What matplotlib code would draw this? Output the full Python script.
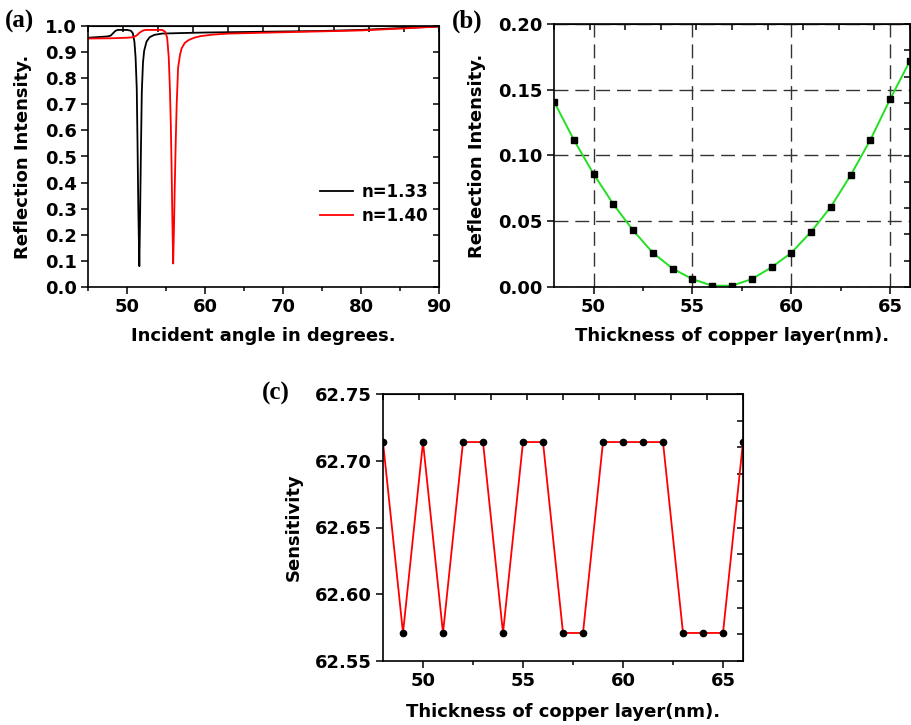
import numpy as np
import matplotlib
matplotlib.use("Agg")
import matplotlib.pyplot as plt
from matplotlib.ticker import MultipleLocator

plt.rcParams['font.family'] = 'DejaVu Sans'
plt.rcParams['font.weight'] = 'bold'
plt.rcParams['axes.labelweight'] = 'bold'

# (a) reflectance vs incident angle for two sensing media
angle_133 = [45.0, 46.5, 47.5, 47.9, 48.2, 48.5, 48.8, 50.0, 50.5, 50.75, 50.95,
             51.1, 51.25, 51.35, 51.45, 51.58, 51.68, 51.78, 51.9, 52.05, 52.2,
             52.5, 52.9, 53.5, 54.5, 57.0, 60.0, 65.0, 70.0, 75.0, 80.0, 85.0, 90.0]
refl_133 = [0.955, 0.958, 0.960, 0.963, 0.972, 0.981, 0.985, 0.985, 0.982, 0.972, 0.94,
            0.88, 0.76, 0.55, 0.30, 0.08, 0.28, 0.51, 0.75, 0.86, 0.905,
            0.94, 0.957, 0.966, 0.971, 0.973, 0.975, 0.977, 0.979, 0.981, 0.985, 0.992, 0.998]
angle_140 = [45.0, 48.0, 50.0, 50.8, 51.2, 51.6, 52.0, 52.4, 54.5, 54.9, 55.15,
             55.35, 55.5, 55.62, 55.72, 55.82, 55.92, 56.02, 56.12, 56.25, 56.37,
             56.55, 56.8, 57.0, 57.4, 57.9, 58.6, 59.4, 61.0, 63.0, 70.0, 80.0, 85.0, 90.0]
refl_140 = [0.952, 0.953, 0.955, 0.957, 0.963, 0.974, 0.982, 0.985, 0.985, 0.978, 0.955,
            0.88, 0.76, 0.62, 0.45, 0.25, 0.09, 0.22, 0.38, 0.56, 0.70,
            0.84, 0.89, 0.914, 0.935, 0.946, 0.955, 0.961, 0.967, 0.971, 0.976, 0.983, 0.990, 0.998]

# (b) minimum reflectance vs copper thickness
thick = [48, 49, 50, 51, 52, 53, 54, 55, 56, 57, 58, 59, 60, 61, 62, 63, 64, 65, 66]
refl_min = [0.141, 0.112, 0.086, 0.063, 0.043, 0.026, 0.014, 0.006, 0.001, 0.001,
            0.006, 0.015, 0.026, 0.042, 0.061, 0.085, 0.112, 0.143, 0.172]

# (c) sensitivity vs copper thickness
sens = [62.714, 62.571, 62.714, 62.571, 62.714, 62.714, 62.571, 62.714, 62.714, 62.571,
        62.571, 62.714, 62.714, 62.714, 62.714, 62.571, 62.571, 62.571, 62.714]

W, H = 912, 725
fig = plt.figure(figsize=(W / 100, H / 100), dpi=100)


def px_axes(x0, y0, x1, y1):
    return fig.add_axes([x0 / W, 1 - y1 / H, (x1 - x0) / W, (y1 - y0) / H])


def origin_style(ax, xlim, ylim):
    ax.set_xlim(*xlim)
    ax.set_ylim(*ylim)
    for s in ax.spines.values():
        s.set_linewidth(1.2)
    ax.tick_params(which='both', direction='out', top=False, right=False,
                   labelsize=13, width=1.1, pad=3)
    ax.tick_params(which='major', length=5)
    ax.tick_params(which='minor', length=3)
    top = ax.secondary_xaxis('top')
    top.set_xticks(np.linspace(xlim[0], xlim[1], 11))
    top.tick_params(direction='in', length=4, width=1.1, labeltop=False)
    right = ax.secondary_yaxis('right')
    right.set_yticks(np.linspace(ylim[0], ylim[1], 11))
    right.tick_params(direction='in', length=4, width=1.1, labelright=False)


# panel (a)
ax1 = px_axes(88, 26, 439, 287)
ax1.plot(angle_133, refl_133, color='black', lw=1.3, label='n=1.33')
ax1.plot(angle_140, refl_140, color='red', lw=1.3, label='n=1.40')
origin_style(ax1, (45, 90), (0.0, 1.0))
ax1.xaxis.set_major_locator(MultipleLocator(10))
ax1.xaxis.set_minor_locator(MultipleLocator(5))
ax1.yaxis.set_major_locator(MultipleLocator(0.1))
ax1.yaxis.set_major_formatter('{x:.1f}')
ax1.set_xlabel('Incident angle in degrees.', fontsize=13, labelpad=8)
ax1.set_ylabel('Reflection Intensity.', fontsize=13, labelpad=9)
ax1.legend(loc='upper left', bbox_to_anchor=(0.66, 0.40), frameon=False,
           fontsize=12, handlelength=2.0, labelspacing=0.4, borderpad=0,
           borderaxespad=0, handletextpad=0.5)

# panel (b)
ax2 = px_axes(554, 24, 910, 287)
ax2.plot(thick, refl_min, color='#22e022', lw=1.4, zorder=2)
ax2.plot(thick, refl_min, ls='none', marker='s', ms=4.5, color='black', zorder=3)
origin_style(ax2, (48, 66), (0.0, 0.20))
ax2.xaxis.set_major_locator(MultipleLocator(5))
ax2.xaxis.set_minor_locator(MultipleLocator(2.5))
ax2.yaxis.set_major_locator(MultipleLocator(0.05))
ax2.yaxis.set_major_formatter('{x:.2f}')
ax2.grid(True, which='major', color='#333333', lw=1.0, ls=(0, (10, 5)))
ax2.set_xlabel('Thickness of copper layer(nm).', fontsize=13, labelpad=8)
ax2.set_ylabel('Reflection Intensity.', fontsize=13, labelpad=9)

# panel (c)
ax3 = px_axes(383, 394, 743, 661)
ax3.plot(thick, sens, color='red', lw=1.3, marker='o', ms=4.5, mfc='black',
         mec='black')
origin_style(ax3, (48, 66), (62.55, 62.75))
ax3.xaxis.set_major_locator(MultipleLocator(5))
ax3.xaxis.set_minor_locator(MultipleLocator(2.5))
ax3.yaxis.set_major_locator(MultipleLocator(0.05))
ax3.yaxis.set_major_formatter('{x:.2f}')
ax3.set_xlabel('Thickness of copper layer(nm).', fontsize=13, labelpad=9)
ax3.set_ylabel('Sensitivity', fontsize=13, labelpad=9)

# panel letters
for label, x, y in [('(a)', 5, 10), ('(b)', 452, 10), ('(c)', 262, 382)]:
    fig.text(x / W, 1 - y / H, label, fontsize=18, fontweight='bold',
             family='Liberation Serif', va='top', ha='left')

fig.savefig('out.png', dpi=100)
